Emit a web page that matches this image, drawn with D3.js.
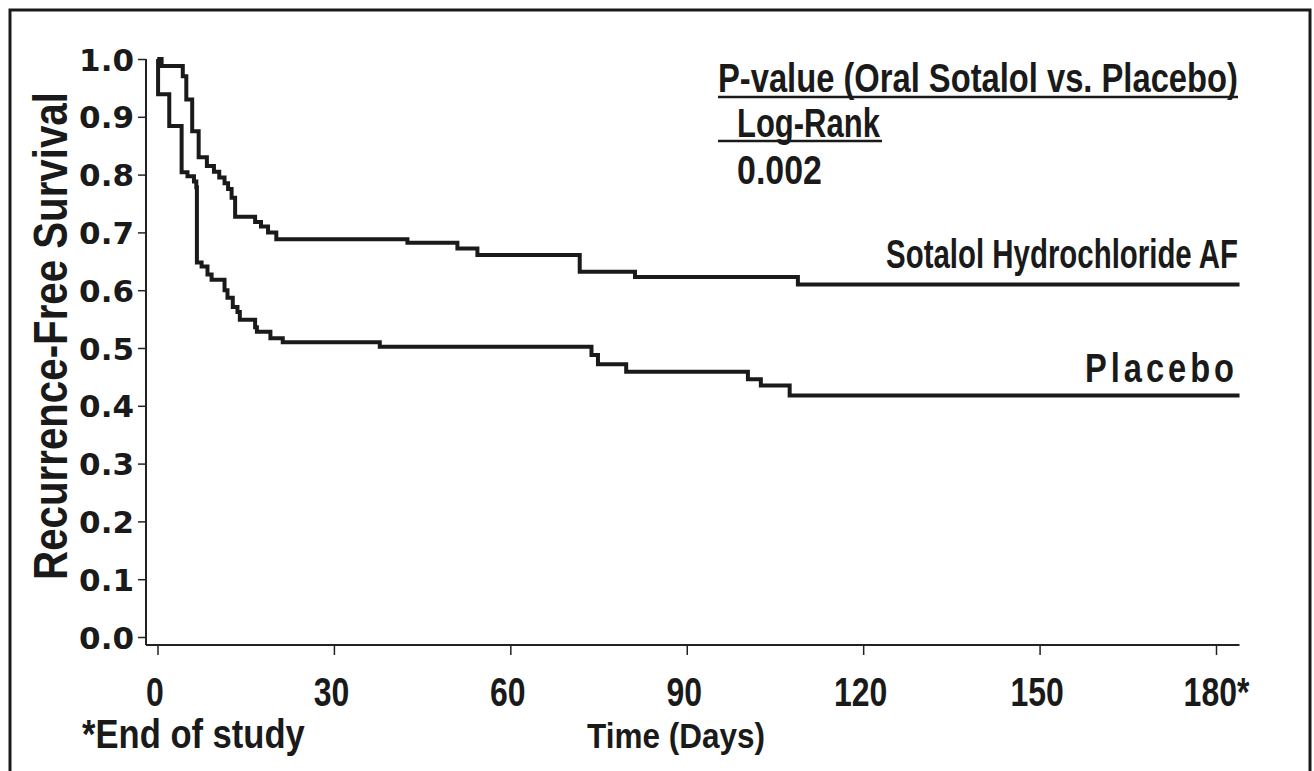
<!DOCTYPE html>
<html>
<head>
<meta charset="utf-8">
<script src="https://cdn.jsdelivr.net/npm/d3@7"></script>
<style>
  body { margin: 0; background: #fff; overflow: hidden; }
  .narrow { font-family: 'Liberation Sans', Arial, sans-serif; font-weight: bold; }
</style>
</head>
<body>
<script>
const width = 1314;
const height = 771;

// x axis ticks (days)
const dayTicks = [0, 30, 60, 90, 120, 150, 180];
const dayLabels = ['0', '30', '60', '90', '120', '150', '180*'];
// y axis ticks
const survTicks = [0, 0.1, 0.2, 0.3, 0.4, 0.5, 0.6, 0.7, 0.8, 0.9, 1.0];
const lastDay = 184;

// Kaplan-Meier steps, [day, survival]
const sotalol = [
  [0, 1.0], [0.7, 0.988], [4.3, 0.97], [4.9, 0.93], [5.9, 0.875], [7.0, 0.83],
  [8.4, 0.815], [9.6, 0.805], [10.5, 0.795], [11.4, 0.785], [12.0, 0.775],
  [12.6, 0.76], [13.2, 0.727], [16.6, 0.718], [17.6, 0.71], [18.8, 0.70],
  [20.2, 0.688], [42.5, 0.682], [51, 0.672], [54.4, 0.661], [71.8, 0.632],
  [81.2, 0.623], [108.9, 0.61]
];
const placebo = [
  [0, 1.0], [0.1, 0.939], [2.0, 0.884], [4.1, 0.804], [5.1, 0.797], [6.2, 0.788],
  [6.6, 0.778], [6.7, 0.648], [7.5, 0.641], [8.5, 0.627], [9.2, 0.618],
  [11.4, 0.60], [11.9, 0.587], [12.8, 0.571], [13.6, 0.5625], [14.0, 0.549],
  [16.6, 0.536], [16.9, 0.528], [19.2, 0.517], [21.3, 0.51], [37.8, 0.502],
  [73.8, 0.488], [74.9, 0.472], [79.7, 0.459], [100.4, 0.446], [102.6, 0.435],
  [107.5, 0.418]
];

const svg = d3.select('body').append('svg')
  .attr('width', width)
  .attr('height', height);

// frame (bottom edge runs off the page)
svg.append('rect')
  .attr('x', 10).attr('y', 10)
  .attr('width', 1300).attr('height', 820)
  .attr('fill', 'none')
  .attr('stroke', '#1a1a1a')
  .attr('stroke-width', 3);

const x = d3.scaleLinear().domain([0, 180]).range([157.5, 1216]);
const y = d3.scaleLinear().domain([0, 1]).range([637, 59]);
const axisX = 146, axisY = 645;

// text squeezed into a target width (the original uses a condensed face)
function label(parent, txt, px, py, size, w, anchor, rotate, spacing) {
  const g = parent.append('g');
  const t = g.append('text')
    .attr('class', 'narrow')
    .attr('font-size', size)
    .attr('fill', '#1a1a1a')
    .attr('text-anchor', anchor || 'start')
    .attr('letter-spacing', spacing || 0)
    .text(txt);
  const sx = w / t.node().getComputedTextLength();
  g.attr('transform', `translate(${px},${py})` + (rotate ? ` rotate(${rotate})` : '') + ` scale(${sx},1)`);
  return t;
}

// y axis
const yAxis = svg.append('g')
  .attr('transform', `translate(${axisX},0)`)
  .call(d3.axisLeft(y).tickValues(survTicks).tickSize(8).tickPadding(4).tickFormat(d3.format('.1f')));
yAxis.select('.domain').remove();
yAxis.selectAll('.tick line').attr('stroke', '#222').attr('stroke-width', 1.5);
yAxis.selectAll('.tick text')
  .attr('font-family', "'DejaVu Sans', sans-serif")
  .attr('font-weight', 'bold')
  .attr('font-size', 31)
  .attr('fill', '#1a1a1a')
  .attr('dy', '0.36em');
svg.append('line')
  .attr('x1', axisX).attr('x2', axisX)
  .attr('y1', y(1)).attr('y2', axisY)
  .attr('stroke', '#222').attr('stroke-width', 2);

// x axis: ticks from the axis generator, labels squeezed in place
const xAxis = svg.append('g')
  .attr('transform', `translate(0,${axisY})`)
  .call(d3.axisBottom(x).tickValues(dayTicks).tickSize(10).tickFormat(''));
xAxis.select('.domain').remove();
xAxis.selectAll('.tick line').attr('stroke', '#222').attr('stroke-width', 1.5);
xAxis.selectAll('.tick').each(function (d, i) {
  const tick = d3.select(this);
  const probe = tick.append('text').attr('class', 'narrow').attr('font-size', 41).text(dayLabels[i]);
  const w = probe.node().getComputedTextLength() * 0.78;
  probe.remove();
  label(tick, dayLabels[i], i === dayTicks.length - 1 ? 0 : -3, 61, 41, w, 'middle');
});
svg.append('line')
  .attr('x1', axisX).attr('x2', x(lastDay))
  .attr('y1', axisY).attr('y2', axisY)
  .attr('stroke', '#222').attr('stroke-width', 2);

// curves
const line = d3.line()
  .x(d => x(d[0]))
  .y(d => y(d[1]))
  .curve(d3.curveStepAfter);

[sotalol, placebo].forEach(series => {
  const pts = series.concat([[lastDay, series[series.length - 1][1]]]);
  svg.append('path')
    .datum(pts)
    .attr('d', line)
    .attr('fill', 'none')
    .attr('stroke', '#1a1a1a')
    .attr('stroke-width', 4)
    .attr('stroke-linejoin', 'miter');
});

// axis titles
label(svg, 'Recurrence-Free Survival', 67, 336, 49, 488, 'middle', -90);
label(svg, '*End of study', 82, 748, 40, 223);
label(svg, 'Time (Days)', 587, 748, 36, 178);

// p-value box
const notes = svg.append('g');
label(notes, 'P-value (Oral Sotalol vs. Placebo)', 718, 92, 40, 520);
notes.append('line')
  .attr('x1', 718).attr('x2', 1238).attr('y1', 97).attr('y2', 97)
  .attr('stroke', '#1a1a1a').attr('stroke-width', 2.5);
label(notes, 'Log-Rank', 737, 137, 40, 143);
notes.append('line')
  .attr('x1', 718).attr('x2', 882).attr('y1', 141).attr('y2', 141)
  .attr('stroke', '#1a1a1a').attr('stroke-width', 2.5);
label(notes, '0.002', 737, 184, 40, 85);

// series labels
label(notes, 'Sotalol Hydrochloride AF', 1238, 268, 41, 352, 'end');
label(notes, 'Placebo', 1238, 382, 41, 153, 'end', 0, 5);
</script>
</body>
</html>
